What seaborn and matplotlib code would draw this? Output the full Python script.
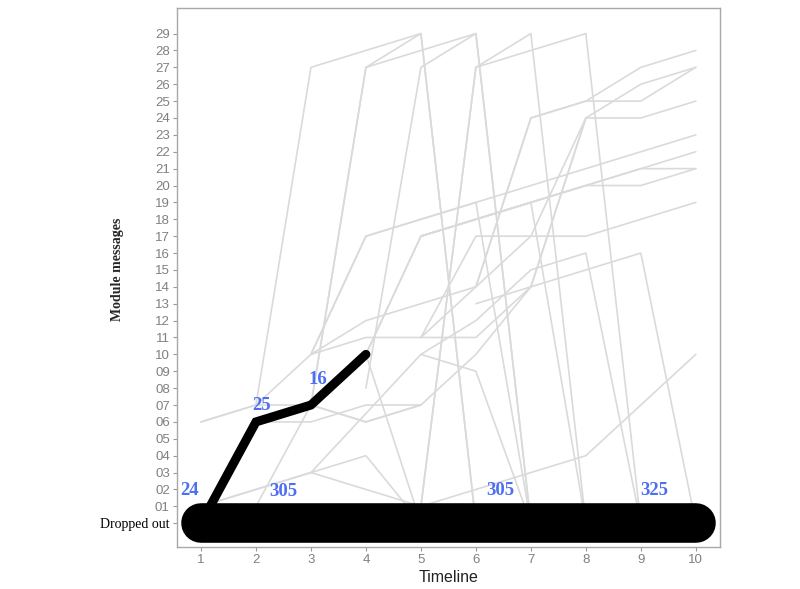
import matplotlib
matplotlib.use("Agg")
import matplotlib.pyplot as plt
import seaborn as sns
import pandas as pd

# learner trajectories: timeline points and module message reached (0 = dropped out)
traj_times = [
    [1, 2, 3, 5, 6],
    [2, 3, 4, 5, 6],
    [3, 4, 6, 7],
    [4, 5, 6, 7],
    [5, 6, 7, 8],
    [5, 6, 8, 9],
    [2, 3, 4, 5, 6, 7, 8, 9, 10],
    [6, 7, 8, 9, 10],
    [5, 6, 7, 8, 9, 10],
    [3, 4, 5, 6, 7, 8, 9, 10],
    [3, 4, 6, 7],
    [3, 4, 10],
    [4, 5, 7, 8],
    [4, 5, 10],
    [5, 7, 8, 9, 10],
    [5, 9, 10],
    [5, 6, 7, 8, 10],
    [5, 6, 7, 8, 9],
    [6, 7, 8, 9, 10],
    [1, 2, 3, 4, 5, 6, 7, 8],
    [2, 3, 4, 5],
    [1, 3, 4, 5],
    [1, 3, 5, 8, 10],
    [3, 5, 6, 7],
    [2, 3, 4, 5],
    [2, 3, 4, 5],
]
traj_values = [
    [6, 7, 27, 29, 0],
    [6, 7, 27, 29, 0],
    [7, 27, 29, 0],
    [8, 27, 29, 0],
    [1, 27, 29, 0],
    [1, 27, 29, 0],
    [7, 10, 12, 13, 14, 24, 25, 27, 28],
    [14, 17, 24, 26, 27],
    [11, 14, 24, 25, 25, 27],
    [10, 11, 11, 11, 14, 24, 24, 25],
    [10, 17, 19, 0],
    [10, 17, 23],
    [10, 17, 19, 0],
    [10, 17, 22],
    [17, 19, 20, 20, 21],
    [17, 21, 21],
    [11, 17, 17, 17, 19],
    [10, 12, 15, 16, 0],
    [13, 14, 15, 16, 0],
    [6, 7, 7, 6, 7, 10, 14, 24],
    [6, 6, 7, 7],
    [1, 3, 4, 0],
    [1, 3, 1, 4, 10],
    [3, 10, 9, 0],
    [6, 7, 10, 0],
    [1, 7, 6, 7],
]

# highlighted path and the dropped-out band
path_times = [1, 2, 3, 4]
path_values = [0, 6, 7, 10]
band_times = [1, 10]
band_values = [0, 0]

# counts written on the chart
count_labels = ["24", "25", "16", "305", "305", "325"]
count_x = [0.8, 2.11, 3.13, 2.49, 6.45, 9.25]
count_y = [1.95, 7.0, 8.5, 1.85, 1.95, 1.95]

timeline = list(range(1, 11))
module_ticks = list(range(0, 30))
module_labels = ["Dropped out"] + [f"{i:02d}" for i in range(1, 30)]

rows = []
for i, (ts, vs) in enumerate(zip(traj_times, traj_values)):
    for t, v in zip(ts, vs):
        rows.append({"id": i, "time": t, "value": v})
df = pd.DataFrame(rows)

sns.set_style("white")
fig = plt.figure(figsize=(8, 5.89), dpi=100)
ax = fig.add_axes([0.221, 0.071, 0.679, 0.915])

sns.lineplot(data=df, x="time", y="value", units="id", estimator=None,
             color="#dadada", linewidth=1.2, ax=ax, sort=False, zorder=1)

band = pd.DataFrame({"time": band_times, "value": band_values})
ax.plot(band["time"], band["value"], color="black", linewidth=28.5,
        solid_capstyle="round", zorder=3)
path = pd.DataFrame({"time": path_times, "value": path_values})
ax.plot(path["time"], path["value"], color="black", linewidth=6.5,
        solid_capstyle="round", solid_joinstyle="miter", zorder=4)

for lab, x, y in zip(count_labels, count_x, count_y):
    ax.text(x, y, lab, color="#4d6ff2", fontsize=13.5, fontweight="bold",
            family="Liberation Serif", ha="center", va="center", zorder=5)

ax.set_xlim(0.56, 10.44)
ax.set_ylim(-1.42, 30.5)
ax.set_xticks(timeline)
ax.set_xticklabels([str(t) for t in timeline])
ax.set_yticks(module_ticks)
ax.set_yticklabels(module_labels)
for lbl in ax.get_yticklabels():
    if lbl.get_text() == "Dropped out":
        lbl.set_family("Liberation Serif")
        lbl.set_color("black")
        lbl.set_fontsize(10)
    else:
        lbl.set_family("Liberation Sans")
        lbl.set_color("#808080")
        lbl.set_fontsize(9.5)
for lbl in ax.get_xticklabels():
    lbl.set_family("Liberation Sans")
    lbl.set_color("#808080")
    lbl.set_fontsize(9.5)

ax.tick_params(axis="both", length=3, width=0.8, color="#999999", pad=2, left=True, bottom=True)
for s in ax.spines.values():
    s.set_color("#a8a8a8")
    s.set_linewidth(1.0)

ax.set_xlabel("Timeline", family="Liberation Sans", fontsize=11.5, color="#222222", labelpad=3)
ax.set_ylabel("")
fig.text(0.1475, 0.542, "Module messages", rotation=90, family="Liberation Serif",
         fontweight="bold", fontsize=10, ha="center", va="center")

fig.savefig("out.png", dpi=100)
